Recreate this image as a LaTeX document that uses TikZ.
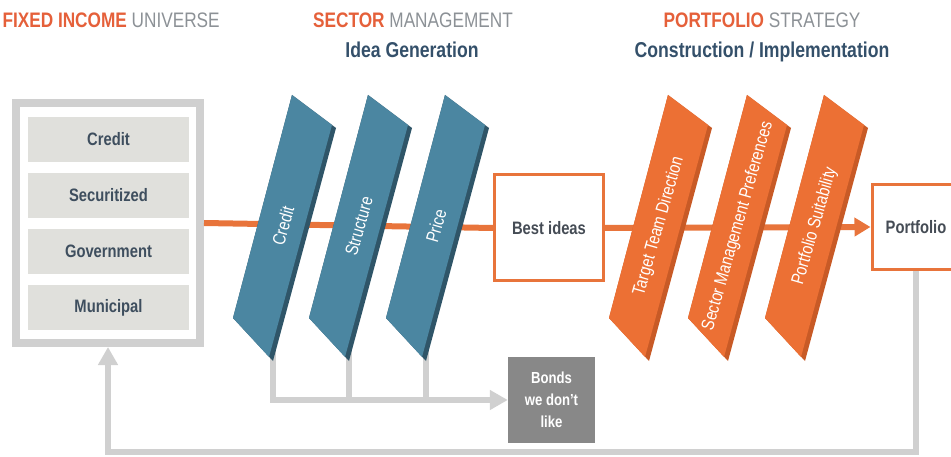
\documentclass[tikz,border=0pt]{standalone}
\usepackage{fontspec}
\setmainfont{Liberation Sans}[FakeStretch=0.82]
\usetikzlibrary{arrows.meta}
\definecolor{tor}{HTML}{E5603A}
\definecolor{tgray}{HTML}{8C9196}
\definecolor{subc}{HTML}{34506A}
\definecolor{lblc}{HTML}{3E4E5E}
\definecolor{lgray}{HTML}{D0D0D0}
\definecolor{rowf}{HTML}{E0E0DC}
\definecolor{oline}{HTML}{E8743B}
\definecolor{bface}{HTML}{4B86A1}
\definecolor{bshad}{HTML}{2F5568}
\definecolor{oface}{HTML}{EC7034}
\definecolor{oshad}{HTML}{C85A26}
\definecolor{bondc}{HTML}{888888}
\definecolor{boxtxt}{HTML}{454C55}
\newcommand\slab[5]{%
  \fill[#3] (#1,95) -- (#1+44,128) -- (#1-19,361) -- (#1-59,318) -- cycle;
  \fill[#2] (#1,95) -- (#1+40,125) -- (#1-23,357) -- (#1-59,318) -- cycle;
  \coordinate (#4-bot) at (#1-19,358);
  \node[slabtext] (#4) at (#1-9,226) {#5};
}
\begin{document}
\begin{tikzpicture}[x=1pt,y=-1pt,
  title/.style={anchor=base, font=\fontsize{21}{24}\selectfont},
  subtitle/.style={anchor=base, font=\fontsize{21.5}{24}\selectfont\bfseries, text=subc},
  rowbox/.style={fill=rowf, minimum width=161, minimum height=45, inner sep=0, font=\fontsize{18}{20}\selectfont\bfseries, text=lblc},
  slabtext/.style={rotate=74, text=white, font=\fontsize{18}{20}\selectfont},
  obox/.style={draw=oline, line width=3, fill=white, inner sep=0, font=\fontsize{18}{20}\selectfont\bfseries, text=boxtxt},
  oflow/.style={draw=oline, line width=6},
  gflow/.style={draw=lgray, line width=5.5},
  gtip/.style={-{Triangle[length=18pt,width=19pt]}}
]
\useasboundingbox (0,0) rectangle (951,457);

% titles
\node[title, anchor=base west] (t1) at (-1,28) {\textcolor{tor}{\bfseries FIXED INCOME} \textcolor{tgray}{UNIVERSE}};
\node[title] (t2) at (413,28) {\textcolor{tor}{\bfseries SECTOR} \textcolor{tgray}{MANAGEMENT}};
\node[subtitle] (s2) at (412,58) {Idea Generation};
\node[title] (t3) at (762,28) {\textcolor{tor}{\bfseries PORTFOLIO} \textcolor{tgray}{STRATEGY}};
\node[subtitle] (s3) at (762,58) {Construction / Implementation};

% universe box
\node[draw=lgray, line width=8, minimum width=184, minimum height=240, inner sep=0, outer sep=4] (uni) at (108,223) {};
\node[rowbox] (r1) at (108.5,139.5) {Credit};
\node[rowbox] (r2) at (108.5,195.5) {Securitized};
\node[rowbox] (r3) at (108.5,251.5) {Government};
\node[rowbox] (r4) at (108.5,307.5) {Municipal};

% boxes
\node[obox, minimum width=109, minimum height=106] (best) at (549,228) {Best ideas};
\node[obox, minimum width=88, minimum height=85] (port) at (916,227) {Portfolio};
\node[fill=bondc, minimum width=87, minimum height=86, text=white, align=center,
      font=\fontsize{16}{22}\selectfont\bfseries] (bonds) at (551.5,400) {Bonds\\we don’t\\like};

% orange flow
\draw[oflow] (uni.east) -- (best.west);
\draw[oflow, -{Triangle[length=16pt,width=18pt]}] (best.east) -- (port.west);

% gray feedback
\coordinate (fb) at (0,452);
\draw[gflow, gtip] (port.south) -- (port.south |- fb) -- (uni.south |- fb) -- (uni.south);

% slab bottoms for rejected bonds
\coordinate (c1) at (273,350);
\coordinate (c2) at (349,350);
\coordinate (c3) at (426,350);
\draw[gflow, gtip] (c1) |- (bonds.west);
\draw[gflow] (c2) -- (c2 |- bonds.west);
\draw[gflow] (c3) -- (c3 |- bonds.west);

% slabs
\slab{292}{bface}{bshad}{p1}{Credit}
\slab{368}{bface}{bshad}{p2}{Structure}
\slab{445}{bface}{bshad}{p3}{Price}
\slab{668}{oface}{oshad}{q1}{Target Team Direction}
\slab{747}{oface}{oshad}{q2}{Sector Management Preferences}
\slab{824}{oface}{oshad}{q3}{Portfolio Suitability}
\end{tikzpicture}
\end{document}
